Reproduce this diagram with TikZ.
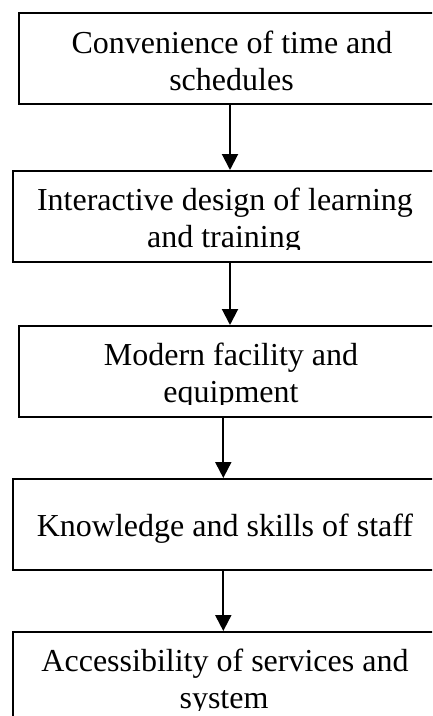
\documentclass[tikz,border=0pt]{standalone}
\usepackage{fontspec}
\setmainfont{Liberation Serif}
\usetikzlibrary{arrows.meta}
\begin{document}
\begin{tikzpicture}[x=1pt,y=-1pt,
  box/.style={draw, line width=2pt, inner sep=0pt, minimum height=91pt},
  line/.style={anchor=base, inner sep=0pt, font=\fontsize{32}{36}\selectfont},
  flow/.style={line width=2pt, -{Triangle[length=16pt,width=16pt]}}]
\useasboundingbox (0,0) rectangle (432,716);
\clip (0,0) rectangle (432,716);

% boxes of the flow chart (they run past the right edge of the page)
\node[box, minimum width=441pt] (b1) at (239.5,58.5) {};
\node[box, minimum width=447pt] (b2) at (236.5,216.5) {};
\node[box, minimum width=441pt] (b3) at (239.5,371.5) {};
\node[box, minimum width=447pt] (b4) at (236.5,524.5) {};
\node[box, minimum width=447pt] (b5) at (236.5,677.5) {};

% labels; the second line of each two-line label is cut off near the box bottom
\node[line] (t1a) at (232,53.3) {Convenience of time and};
\node[line] (t1b) at (231.5,90) {schedules};

\begin{scope}
  \clip (b2.north west) rectangle ([yshift=13.5pt]b2.south east);
  \node[line] (t2a) at (225,210.7) {Interactive design of learning};
  \node[line] (t2b) at (224,247) {and training};
\end{scope}

\begin{scope}
  \clip (b3.north west) rectangle ([yshift=14pt]b3.south east);
  \node[line] (t3a) at (231,365.7) {Modern facility and};
  \node[line] (t3b) at (231,402) {equipment};
\end{scope}

\node[line] (t4) at (225,536) {Knowledge and skills of staff};

\begin{scope}
  \clip (b5.north west) rectangle ([yshift=13.5pt]b5.south east);
  \node[line] (t5a) at (225,671) {Accessibility of services and};
  \node[line] (t5b) at (224,708) {system};
\end{scope}

% connectors
\coordinate (xa) at (230,0);
\coordinate (xb) at (223.3,0);
\draw[flow] (b1.south -| xa) -- (b2.north -| xa);
\draw[flow] (b2.south -| xa) -- (b3.north -| xa);
\draw[flow] (b3.south -| xb) -- (b4.north -| xb);
\draw[flow] (b4.south -| xb) -- (b5.north -| xb);
\end{tikzpicture}
\end{document}
